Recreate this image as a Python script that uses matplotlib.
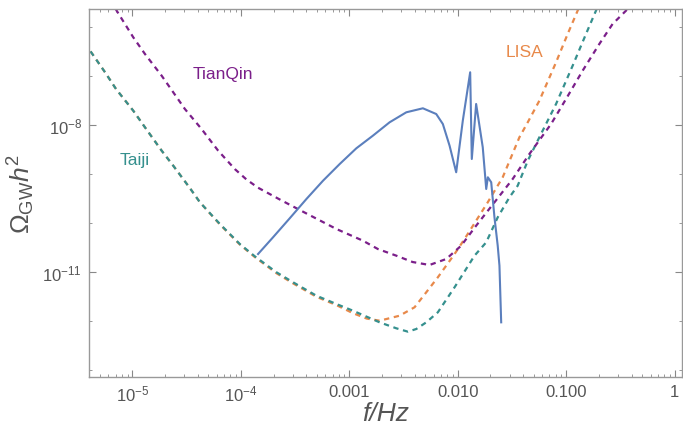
import numpy as np
import matplotlib
matplotlib.use("Agg")
import matplotlib.pyplot as plt
from matplotlib.ticker import FixedLocator, FixedFormatter, NullFormatter

plt.rcParams['font.family'] = ['Liberation Sans', 'DejaVu Sans']
plt.rcParams['mathtext.fontset'] = 'custom'
plt.rcParams['mathtext.rm'] = 'Liberation Sans'
plt.rcParams['mathtext.it'] = 'Liberation Sans:italic'
plt.rcParams['mathtext.bf'] = 'Liberation Sans:bold'

# curves, as log10(f/Hz) and log10(Omega h^2)
lisa_logf = [-5.45, -5.391, -5.253, -5.152, -4.993, -4.885, -4.731, -4.624, -4.471, -4.378,
             -4.194, -4.010, -3.872, -3.672, -3.519, -3.304, -3.120, -2.967, -2.840, -2.721,
             -2.537, -2.399, -2.291, -2.184, -2.030, -1.938, -1.831, -1.724, -1.586, -1.432,
             -1.355, -1.248, -1.094, -0.987, -0.895, -0.85]
lisa_logomega = [-6.35, -6.484, -6.924, -7.265, -7.708, -8.047, -8.524, -8.831, -9.286, -9.578,
                 -10.030, -10.440, -10.695, -11.025, -11.232, -11.505, -11.675, -11.840, -11.950, -11.994,
                 -11.892, -11.720, -11.414, -11.108, -10.633, -10.327, -9.953, -9.578, -9.067, -8.251,
                 -7.945, -7.504, -6.720, -6.143, -5.667, -5.43]

taiji_logf = [-5.45, -5.391, -5.253, -5.152, -4.993, -4.885, -4.731, -4.624, -4.471, -4.378,
              -4.194, -4.010, -3.872, -3.672, -3.519, -3.304, -3.120, -2.967, -2.721, -2.567,
              -2.460, -2.383, -2.291, -2.184, -2.030, -1.846, -1.738, -1.632, -1.524, -1.448,
              -1.355, -1.248, -1.094, -0.941, -0.818, -0.726, -0.68]
taiji_logomega = [-6.35, -6.484, -6.924, -7.265, -7.708, -8.047, -8.524, -8.831, -9.286, -9.578,
                  -10.020, -10.429, -10.680, -11.006, -11.210, -11.484, -11.653, -11.790, -12.027, -12.149,
                  -12.218, -12.163, -12.027, -11.822, -11.312, -10.667, -10.394, -9.884, -9.476, -9.239,
                  -8.729, -8.251, -7.571, -6.790, -6.143, -5.667, -5.43]

tianqin_logf = [-5.20, -5.146, -4.993, -4.885, -4.731, -4.624, -4.517, -4.363, -4.210, -4.056,
                -3.95, -3.842, -3.642, -3.427, -3.120, -2.875, -2.737, -2.567, -2.417, -2.261,
                -2.107, -1.969, -1.831, -1.662, -1.494, -1.340, -1.140, -1.002, -0.849, -0.695,
                -0.573, -0.449, -0.40]
tianqin_logomega = [-5.45, -5.667, -6.210, -6.551, -6.994, -7.333, -7.673, -8.082, -8.524, -8.900,
                    -9.110, -9.280, -9.520, -9.770, -10.122, -10.361, -10.531, -10.667, -10.796, -10.857,
                    -10.735, -10.463, -10.055, -9.578, -9.102, -8.592, -7.980, -7.469, -6.892, -6.347,
                    -5.939, -5.667, -5.45]

signal_logf = [-3.842, -3.704, -3.550, -3.396, -3.243, -3.089, -2.936, -2.783, -2.629, -2.475,
               -2.322, -2.199, -2.138, -2.076, -2.015, -1.954, -1.886, -1.871, -1.831, -1.770,
               -1.738, -1.723, -1.692, -1.662, -1.632, -1.616, -1.600]
signal_logomega = [-10.633, -10.292, -9.904, -9.510, -9.137, -8.796, -8.476, -8.218, -7.945, -7.741,
                   -7.659, -7.776, -7.980, -8.422, -8.965, -7.912, -6.924, -8.694, -7.571, -8.455,
                   -9.306, -9.067, -9.169, -9.884, -10.463, -10.871, -12.027]

labels = ["LISA", "Taiji", "TianQin"]
label_logf = [-1.386, -4.977, -4.167]
label_logomega = [-6.510, -8.694, -6.959]

c_lisa = '#E8894A'
c_taiji = '#35908E'
c_tianqin = '#7B1F8A'
c_signal = '#5B7FBD'

fig = plt.figure(figsize=(6.83, 4.35), dpi=100)
ax = fig.add_axes([0.1303, 0.131, 0.8685, 0.846])

dash = (0, (2.4, 2.1))
ax.plot(10**np.array(lisa_logf), 10**np.array(lisa_logomega), color=c_lisa, lw=1.6, ls=dash)
ax.plot(10**np.array(taiji_logf), 10**np.array(taiji_logomega), color=c_taiji, lw=1.6, ls=dash)
ax.plot(10**np.array(tianqin_logf), 10**np.array(tianqin_logomega), color=c_tianqin, lw=1.6, ls=dash)
ax.plot(10**np.array(signal_logf), 10**np.array(signal_logomega), color=c_signal, lw=1.5, zorder=5)

for name, lf, lo, c in zip(labels, label_logf, label_logomega, [c_lisa, c_taiji, c_tianqin]):
    ax.text(10**lf, 10**lo, name, color=c, fontsize=12.5, ha='center', va='center')

ax.set_xscale('log')
ax.set_yscale('log')
ax.set_xlim(10**-5.401, 10**0.069)
ax.set_ylim(10**-13.143, 10**-5.633)

xmaj = [1e-5, 1e-4, 1e-3, 1e-2, 1e-1, 1]
ax.xaxis.set_major_locator(FixedLocator(xmaj))
ax.xaxis.set_major_formatter(FixedFormatter([r'$10^{-5}$', r'$10^{-4}$', '0.001', '0.010', '0.100', '1']))
xmin = [m * d for d in [1e-6, 1e-5, 1e-4, 1e-3, 1e-2, 1e-1, 1] for m in range(2, 10)]
ax.xaxis.set_minor_locator(FixedLocator(xmin))
ax.xaxis.set_minor_formatter(NullFormatter())

ax.yaxis.set_major_locator(FixedLocator([1e-8, 1e-11]))
ax.yaxis.set_major_formatter(FixedFormatter([r'$10^{-8}$', r'$10^{-11}$']))
ax.yaxis.set_minor_locator(FixedLocator([1e-13, 1e-12, 1e-10, 1e-9, 1e-7, 1e-6]))
ax.yaxis.set_minor_formatter(NullFormatter())

ax.tick_params(which='both', direction='in', top=True, right=True, color='#888888',
               labelcolor='#555555', labelsize=12)
ax.tick_params(which='major', length=5, width=0.8, pad=5)
ax.tick_params(which='minor', length=2.5, width=0.6)
for s in ax.spines.values():
    s.set_color('#999999')
    s.set_linewidth(1.0)

ax.set_xlabel('f/Hz', fontsize=19, color='#555555', style='italic')
ax.set_ylabel(r'$\Omega_{\rm GW}h^2$', fontsize=19, color='#555555')
ax.xaxis.set_label_coords(0.5, -0.065)
ax.yaxis.set_label_coords(-0.088, 0.5)

fig.savefig('out.png', dpi=100)
